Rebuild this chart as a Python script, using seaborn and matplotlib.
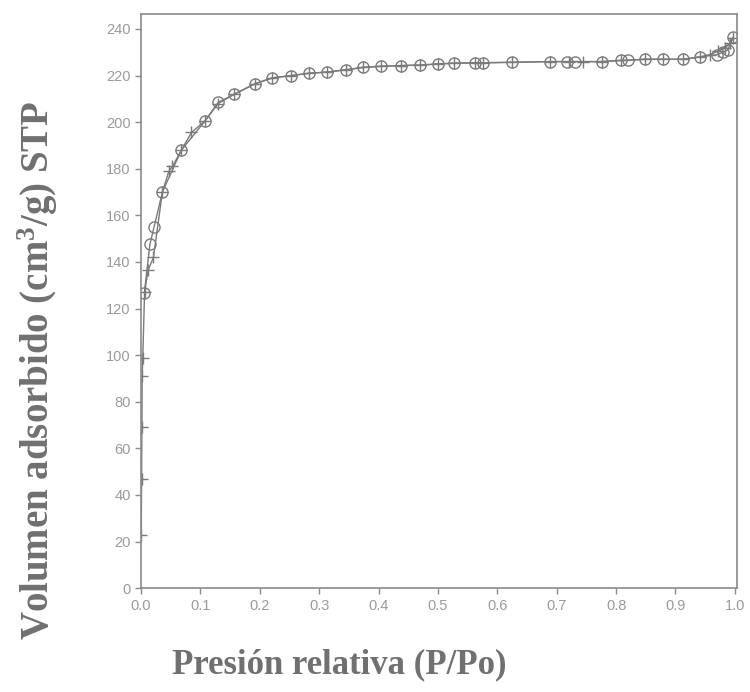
# N2 isotherm - adsorption (+) and desorption (o)

import numpy as np
import pandas as pd
import matplotlib
matplotlib.use("Agg")
import matplotlib.pyplot as plt
import seaborn as sns

# Data

ads_x = [0.0005, 0.001, 0.0015, 0.002, 0.003, 0.006, 0.012, 0.021, 0.036, 0.047,
         0.053, 0.068, 0.085, 0.108, 0.13, 0.157, 0.192, 0.221, 0.253, 0.283,
         0.313, 0.345, 0.374, 0.404, 0.438, 0.470, 0.500, 0.527, 0.562, 0.576,
         0.625, 0.689, 0.720, 0.745, 0.776, 0.808, 0.848, 0.879, 0.912, 0.941,
         0.958, 0.972, 0.984, 0.992, 0.997]
ads_y = [23, 47, 69, 91, 99, 127, 136.5, 142, 170, 179,
         181, 188, 195.6, 200.6, 208, 212, 216.5, 219, 220, 221,
         221.5, 222.5, 223.5, 224, 224.3, 224.5, 225, 225.3, 225.5, 225.5,
         225.7, 226, 226, 226, 226, 226.5, 227, 227, 227, 228,
         229, 230.5, 232, 234, 236]

des_x = [0.997, 0.988, 0.980, 0.970, 0.941, 0.912, 0.879, 0.848, 0.820, 0.808,
         0.776, 0.731, 0.717, 0.689, 0.625, 0.576, 0.562, 0.527, 0.500, 0.470,
         0.438, 0.404, 0.374, 0.345, 0.313, 0.283, 0.253, 0.221, 0.192, 0.157,
         0.130, 0.108, 0.068, 0.036, 0.022, 0.015, 0.0056]
des_y = [236.5, 231, 230, 229, 228, 227, 227, 227, 226.5, 226.5,
         226, 226, 226, 226, 225.7, 225.5, 225.5, 225.3, 225, 224.5,
         224.3, 224, 223.5, 222.5, 221.5, 221, 220, 219, 216.5, 212,
         208.5, 200.6, 188, 170, 155, 147.6, 126.7]

x_ticks = [0.0, 0.1, 0.2, 0.3, 0.4, 0.5, 0.6, 0.7, 0.8, 0.9, 1.0]
y_ticks = [0, 20, 40, 60, 80, 100, 120, 140, 160, 180, 200, 220, 240]

# Plot

sns.set_theme(style="white")
plt.rcParams["mathtext.fontset"] = "custom"
plt.rcParams["mathtext.rm"] = "Liberation Serif:bold"
plt.rcParams["mathtext.it"] = "Liberation Serif:bold"
plt.rcParams["mathtext.bf"] = "Liberation Serif:bold"

grey = "#7a7a7a"

fig = plt.figure(figsize=(7.5, 6.92), dpi=100)
ax = fig.add_axes([0.188, 0.150, 0.795, 0.830])

sns.lineplot(x=ads_x, y=ads_y, ax=ax, sort=False, color=grey, linewidth=1.0,
             marker="+", markersize=9, markeredgewidth=1.0, markeredgecolor=grey)
sns.lineplot(x=des_x, y=des_y, ax=ax, sort=False, color=grey, linewidth=1.0,
             marker="o", markersize=8, markerfacecolor="none",
             markeredgewidth=1.0, markeredgecolor=grey)

ax.set_xlim(0, 1.004)
ax.set_ylim(0, 246.5)
ax.set_xticks(x_ticks)
ax.set_yticks(y_ticks)
ax.set_xticklabels([f"{t:.1f}" for t in x_ticks])
ax.set_yticklabels([str(t) for t in y_ticks])

for s in ax.spines.values():
    s.set_color("#8a8a8a")
    s.set_linewidth(1.2)

ax.tick_params(axis="both", direction="out", length=4, width=1, color="#8a8a8a",
               labelcolor="#9a9a9a", labelsize=10.5, left=True, bottom=True)
for lab in ax.get_xticklabels() + ax.get_yticklabels():
    lab.set_fontfamily("Liberation Sans")

ax.set_xlabel("Presión relativa (P/Po)", fontsize=25, fontweight="bold",
              family="Liberation Serif", color="#707070")
ax.set_ylabel("Volumen adsorbido (cm$^3$/g) STP", fontsize=28, fontweight="bold",
              family="Liberation Serif", color="#707070")
ax.xaxis.set_label_coords(0.332, -0.105)
ax.yaxis.set_label_coords(-0.136, 0.38)

plt.savefig("out.png", dpi=100)
